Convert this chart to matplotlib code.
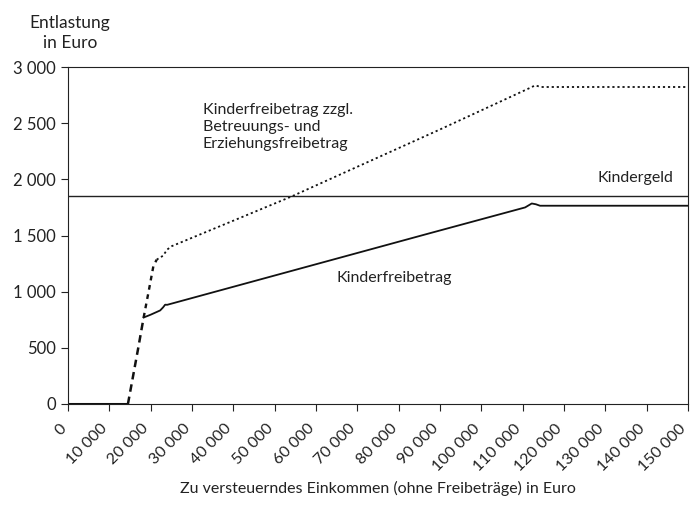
import matplotlib
matplotlib.use('Agg')
import matplotlib.pyplot as plt
import matplotlib.transforms as mtrans
from matplotlib.ticker import FuncFormatter

plt.rcParams['font.family'] = ['Lato', 'DejaVu Sans']

# Kinderfreibetrag (solid line)
kfb_x = [0, 14500, 15500, 17000, 18300, 20000, 22300, 23000, 23500, 24000,
         87600, 110600, 112200, 113200, 114200, 150000]
kfb_y = [0, 0, 200, 500, 770, 795, 833, 860, 884, 883,
         1521, 1750, 1785, 1778, 1765, 1765]

# Kinderfreibetrag zzgl. Betreuungs- und Erziehungsfreibetrag (dotted line)
bez_x = [0, 14500, 15500, 17000, 18300, 19500, 20650, 21450, 23000, 24000, 25100,
         40000, 54000, 70000, 90000, 112000, 113000, 114500, 150000]
bez_y = [0, 0, 200, 500, 770, 1000, 1226, 1285, 1320, 1375, 1405,
         1632, 1846, 2112, 2444, 2818, 2836, 2822, 2822]

kindergeld = 1848

xticks = list(range(0, 150001, 10000))
yticks = [0, 500, 1000, 1500, 2000, 2500, 3000]


def thsep(v, pos=None):
    return '{:,}'.format(int(v)).replace(',', ' ')


fig = plt.figure(figsize=(6.92, 5.2), dpi=100)
ax = fig.add_axes([68 / 692, 1 - 404 / 520, 620 / 692, 337 / 520])

# ramp part drawn dashed, rest solid / dotted
ramp = 5
steep = 8
ax.plot(kfb_x[:2], kfb_y[:2], color='#111111', lw=2.2, solid_capstyle='butt')
ax.plot(kfb_x[1:ramp], kfb_y[1:ramp], color='#111111', lw=1.8,
        linestyle=(0, (3, 2)))
ax.plot(kfb_x[ramp - 1:], kfb_y[ramp - 1:], color='#111111', lw=1.3)
ax.plot(bez_x[ramp - 1:steep], bez_y[ramp - 1:steep], color='#111111', lw=1.7,
        linestyle=(0, (2, 2)))
ax.plot(bez_x[steep - 1:], bez_y[steep - 1:], color='#111111', lw=1.3,
        linestyle=(0, (1.2, 1.6)))
ax.axhline(kindergeld, color='#222222', lw=1.0)

ax.set_xlim(0, 150000)
ax.set_ylim(0, 3000)
ax.set_xticks(xticks)
ax.set_yticks(yticks)
ax.xaxis.set_major_formatter(FuncFormatter(thsep))
ax.yaxis.set_major_formatter(FuncFormatter(thsep))
ax.tick_params(direction='out', length=5, width=0.8, colors='#222222',
               labelsize=12)
ax.tick_params(axis='x', pad=11, labelsize=11.5)
# shift rotated labels slightly left so the last one stays inside
shift = mtrans.ScaledTranslation(-4 / 100, 0, fig.dpi_scale_trans)
for lab in ax.get_xticklabels():
    lab.set_rotation(45)
    lab.set_ha('right')
    lab.set_va('center')
    lab.set_rotation_mode('anchor')
    lab.set_transform(lab.get_transform() + shift)
for sp in ax.spines.values():
    sp.set_linewidth(0.8)
    sp.set_color('#222222')

ax.text(32600, 2467, 'Kinderfreibetrag zzgl.\nBetreuungs- und\nErziehungsfreibetrag',
        fontsize=11.5, color='#222222', va='center', ha='left', linespacing=1.3)
ax.text(65000, 1120, 'Kinderfreibetrag', fontsize=11.5, color='#222222',
        va='center', ha='left')
ax.text(146400, 2012, 'Kindergeld', fontsize=11.5, color='#222222',
        va='center', ha='right')

fig.text(70 / 692, 1 - 33 / 520, 'Entlastung\nin Euro', fontsize=12.5,
         color='#222222', ha='center', va='center', linespacing=1.25)
fig.text(378 / 692, 1 - 488 / 520,
         'Zu versteuerndes Einkommen (ohne Freibeträge) in Euro',
         fontsize=11.5, color='#222222', ha='center', va='center')

fig.savefig('out.png', dpi=100)
